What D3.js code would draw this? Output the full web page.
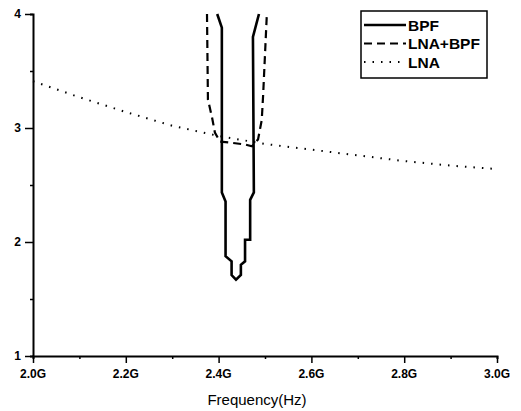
<!DOCTYPE html>
<html><head><meta charset="utf-8">
<script src="https://cdn.jsdelivr.net/npm/d3@7"></script>
<style>body{margin:0;background:#fff}svg{display:block}</style>
</head><body>
<script>
const xTicks = [2.0, 2.2, 2.4, 2.6, 2.8, 3.0];
const xTickLabels = ["2.0G", "2.2G", "2.4G", "2.6G", "2.8G", "3.0G"];
const yTicks = [1, 2, 3, 4];
const seriesNames = ["BPF", "LNA+BPF", "LNA"];

const bpfFreq = [2.397, 2.407, 2.407, 2.415, 2.415, 2.428, 2.428, 2.4375, 2.448, 2.448, 2.457, 2.457, 2.468, 2.468, 2.476, 2.474, 2.487];
const bpfVal  = [4.0, 3.88, 2.435, 2.356, 1.875, 1.83, 1.71, 1.67, 1.71, 1.80, 1.83, 2.02, 2.02, 2.37, 2.435, 3.80, 4.0];

const lnaBpfFreq = [2.375, 2.377, 2.386, 2.392, 2.403, 2.429, 2.457, 2.472, 2.485, 2.493, 2.496, 2.504];
const lnaBpfVal  = [4.0, 3.25, 3.09, 2.96, 2.88, 2.87, 2.855, 2.84, 2.90, 3.07, 3.29, 4.0];

const lnaFreq = [2.0, 2.1, 2.2, 2.3, 2.4, 2.5, 2.6, 2.7, 2.8, 2.9, 3.0];
const lnaVal  = [3.41, 3.27, 3.14, 3.02, 2.93, 2.86, 2.81, 2.76, 2.71, 2.67, 2.64];

const W = 521, H = 411;
const svg = d3.select("body").append("svg").attr("width", W).attr("height", H);
const x = d3.scaleLinear().domain([2.0, 3.0]).range([33, 497]);
const y = d3.scaleLinear().domain([1, 4]).range([356, 14]);

const font = "'Liberation Sans', Arial, sans-serif";

// x axis
const gx = svg.append("g").attr("transform", `translate(0,${y(1)})`);
gx.call(d3.axisBottom(x).tickValues(d3.range(2.0, 3.001, 0.1)).tickSize(3).tickFormat(""));
gx.select(".domain").attr("stroke-width", 2);
gx.selectAll(".tick line").attr("stroke-width", 1.5);
gx.selectAll(".tick").filter(d => xTicks.some(t => Math.abs(t - d) < 1e-6)).select("line").attr("y2", 7);
svg.append("g").selectAll("text").data(xTicks).join("text")
  .attr("x", d => x(d)).attr("y", 378)
  .attr("text-anchor", "middle").attr("font-family", font).attr("font-weight", "bold").attr("font-size", 12)
  .text((d, i) => xTickLabels[i]);

// y axis
const gy = svg.append("g").attr("transform", `translate(${x(2.0)},0)`);
gy.call(d3.axisLeft(y).tickValues(d3.range(1, 4.01, 0.5)).tickSize(3).tickFormat(""));
gy.select(".domain").attr("stroke-width", 2);
gy.selectAll(".tick line").attr("stroke-width", 1.5);
gy.selectAll(".tick").filter(d => Number.isInteger(d)).select("line").attr("x2", -8);
svg.append("g").selectAll("text").data(yTicks).join("text")
  .attr("x", 21).attr("y", d => y(d) + 4)
  .attr("text-anchor", "end").attr("font-family", font).attr("font-weight", "bold").attr("font-size", 12)
  .text(d => d);
svg.selectAll(".domain").attr("stroke", "#000");

// x title
svg.append("text").attr("x", 257).attr("y", 405).attr("text-anchor", "middle")
  .attr("font-family", font).attr("font-size", 15).text("Frequency(Hz)");

const line = d3.line().x(d => x(d[0])).y(d => y(d[1]));
const styles = [
  {w: 2.6, dash: null},
  {w: 2.2, dash: "8,5"},
  {w: 2, dash: "1.5,7"}
];
const data = [
  d3.zip(bpfFreq, bpfVal),
  d3.zip(lnaBpfFreq, lnaBpfVal),
  d3.zip(lnaFreq, lnaVal)
];
data.forEach((d, i) => {
  svg.append("path").datum(d).attr("d", line).attr("fill", "none").attr("stroke", "#000")
    .attr("stroke-width", styles[i].w).attr("stroke-dasharray", styles[i].dash)
    .attr("stroke-linejoin", "miter");
});

// legend
const lg = svg.append("g");
lg.append("rect").attr("x", 361).attr("y", 11).attr("width", 126).attr("height", 67)
  .attr("fill", "#fff").attr("stroke", "#000").attr("stroke-width", 1.5);
seriesNames.forEach((n, i) => {
  const yy = 25 + i * 18.5;
  lg.append("line").attr("x1", 364).attr("x2", 406).attr("y1", yy).attr("y2", yy)
    .attr("stroke", "#000").attr("stroke-width", styles[i].w).attr("stroke-dasharray", styles[i].dash);
  lg.append("text").attr("x", 408).attr("y", yy + 5.5).attr("font-family", font).attr("font-weight", "bold")
    .attr("font-size", 15.5).text(n);
});
</script>
</body></html>
